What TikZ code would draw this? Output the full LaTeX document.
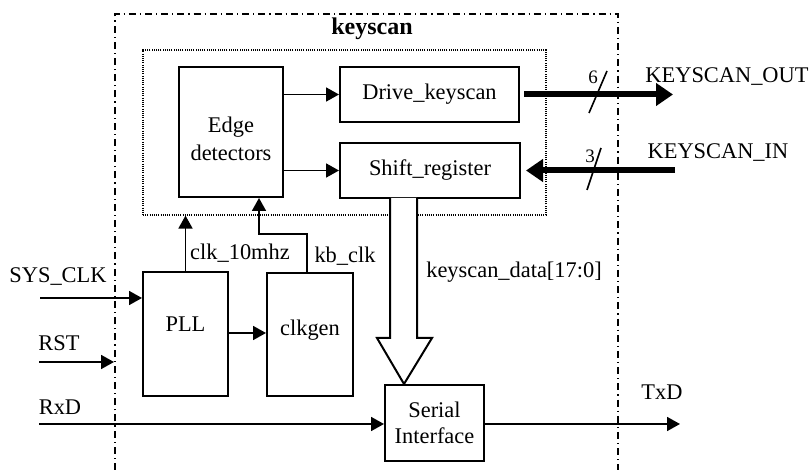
\documentclass[tikz,border=0pt]{standalone}
\usepackage{fontspec}
\setmainfont{Liberation Serif}
\usetikzlibrary{arrows.meta}
\begin{document}
\begin{tikzpicture}[x=0.5pt,y=-0.5pt,
  font=\fontsize{11.2pt}{13pt}\selectfont,
  box/.style={draw,line width=1pt,inner sep=0pt,align=center},
  arr/.style={line width=0.9pt,-{Triangle[length=6.5pt,width=7pt]}},
  bus/.style={line width=3pt,-{Triangle[length=8.5pt,width=11pt]}},
  lbl/.style={inner sep=0pt,align=center},
  frame/.style={line width=0.75pt,dash pattern=on 3.5pt off 2pt on 0.6pt off 2pt},
  group/.style={draw,line width=0.6pt,dash pattern=on 0.5pt off 0.6pt,inner sep=0pt}]
\useasboundingbox (0,0) rectangle (810,470);
% outer frame
\draw[frame] (115,470) -- (115,14) -- (618,14) -- (618,470);
\node[lbl,font=\fontsize{12pt}{14pt}\selectfont\bfseries] (title) at (372,29) {keyscan};
% dotted group
\node[group,minimum width=201.5pt,minimum height=82.5pt] (grp) at (344.5,132.5) {};
% blocks
\node[box,fill=white,minimum width=52pt,minimum height=65pt,
  label={[lbl,yshift=-3.5pt,font=\fontsize{11.2pt}{14pt}\selectfont]center:Edge\\detectors}] (edge) at (231,132) {};
\node[box,minimum width=89.5pt,minimum height=27.5pt] (drive) at (429.5,94.5) {Drive\_keyscan};
\node[box,minimum width=90pt,minimum height=27.5pt] (shift) at (430,170.5) {Shift\_register};
\node[box,minimum width=42.5pt,minimum height=62pt,label={[lbl,yshift=5pt]center:PLL}] (pll) at (185.5,334) {};
\node[box,minimum width=43pt,minimum height=61.5pt,label={[lbl,yshift=2pt]center:clkgen}] (clkgen) at (310,334.5) {};
\node[box,minimum width=49.5pt,minimum height=38pt] (serial) at (434.5,423) {Serial\\Interface};
% internal arrows
\draw[arr] (edge.east |- drive.west) -- (drive.west);
\draw[arr] (edge.east |- shift.west) -- (shift.west);
% bus out / in
\coordinate (kout) at (673,94.5);
\coordinate (kin) at (675,170.5);
\draw[bus] ([xshift=2pt]drive.east) -- (kout);
\draw[bus] (kin) -- ([xshift=2.5pt]shift.east);
\draw[line width=0.8pt] (589,113) -- (607,71);
\draw[line width=0.8pt] (587,190) -- (601,148);
\node[lbl,font=\fontsize{9.5pt}{11pt}\selectfont] (n6) at (593,77) {6};
\node[lbl,font=\fontsize{9.5pt}{11pt}\selectfont] (n3) at (590,156) {3};
\node[lbl] (koutl) at (727,77) {KEYSCAN\_OUT};
\node[lbl] (kinl) at (718,153) {KEYSCAN\_IN};
% clocks
\coordinate (c10) at (pll.north);
\draw[arr] (pll.north) -- (pll.north |- grp.south);
\coordinate (kb1) at (307,234);
\coordinate (kb2) at (259,234);
\draw[arr] (clkgen.north -| kb1) -- (kb1) -- (kb2) -- (edge.south -| kb2);
\draw[arr] (pll.east |- 0,333) -- (clkgen.west |- 0,333);
\node[lbl] (c10l) at (240,253) {clk\_10mhz};
\node[lbl] (kbl) at (345,256) {kb\_clk};
% hollow data arrow
\coordinate (h1) at (390,198);
\coordinate (h2) at (417,198);
\coordinate (tip) at (404,384);
\draw[line width=1pt,fill=white,line join=miter] (h1) -- (390,338) -- (377,338) -- (tip) -- (432,338) -- (417,338) -- (h2);
\node[lbl] (datal) at (514,272) {keyscan\_data[17:0]};
% external signals
\coordinate (sysclk) at (40,298);
\draw[arr] (sysclk) -- (sysclk -| pll.west);
\node[lbl] (sysl) at (58,277) {SYS\_CLK};
\coordinate (rst) at (39,362);
\coordinate (rstend) at (114,362);
\draw[arr] (rst) -- (rstend);
\node[lbl] (rstl) at (59,343) {RST};
\coordinate (rxd) at (39,424);
\draw[arr] (rxd) -- (rxd -| serial.west);
\node[lbl] (rxdl) at (60,407) {RxD};
\coordinate (txd) at (680,424);
\draw[arr] (serial.east |- txd) -- (txd);
\node[lbl] (txdl) at (662,392) {TxD};
\end{tikzpicture}
\end{document}
